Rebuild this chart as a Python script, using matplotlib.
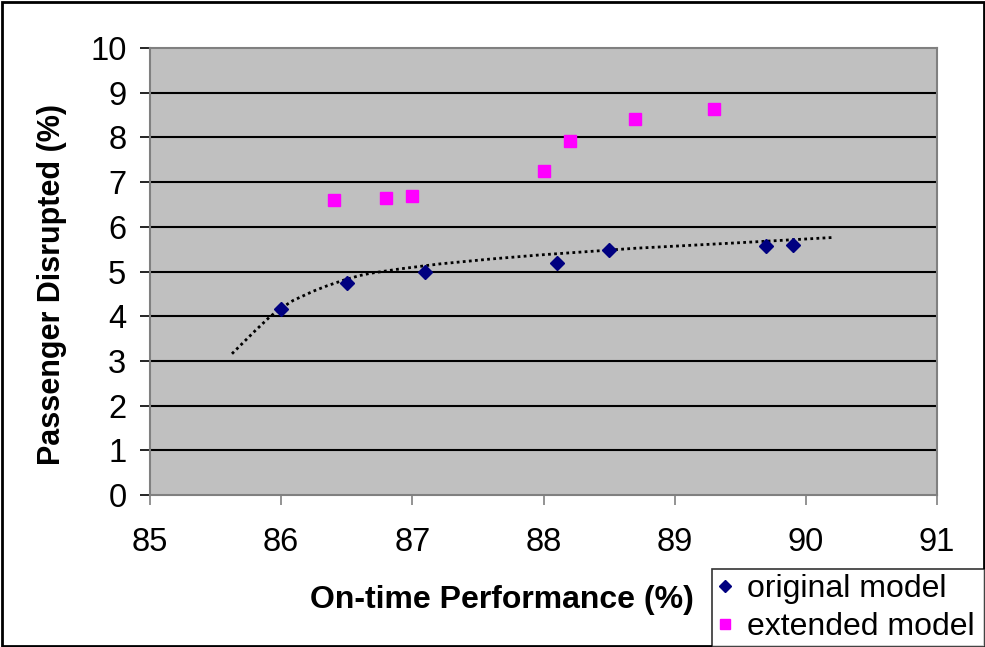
import matplotlib
matplotlib.use("Agg")
import matplotlib.pyplot as plt
from matplotlib.patches import Rectangle
import numpy as np

plt.rcParams['font.family'] = ['Liberation Sans', 'DejaVu Sans']

# Data
orig_x = [86.0, 86.5, 87.1, 88.1, 88.5, 89.7, 89.9]
orig_y = [4.16, 4.75, 5.0, 5.2, 5.47, 5.57, 5.6]
ext_x = [86.4, 86.8, 87.0, 88.0, 88.2, 88.7, 89.3]
ext_y = [6.6, 6.65, 6.69, 7.25, 7.92, 8.42, 8.63]
# Trendline of the original model
trend_x = [85.625, 85.8, 85.915, 86.0, 86.09, 86.245, 86.35, 86.49, 86.6,
           86.68, 86.91, 87.21, 87.6, 87.97, 88.7, 89.5, 90.2]
trend_y = [3.16, 3.67, 3.99, 4.18, 4.35, 4.56, 4.68, 4.82, 4.91,
           4.96, 5.06, 5.17, 5.28, 5.37, 5.52, 5.645, 5.76]
x_ticks = [85, 86, 87, 88, 89, 90, 91]
y_ticks = list(range(0, 11))

W, H = 985, 647
fig = plt.figure(figsize=(W/100, H/100), dpi=100)
ax = fig.add_axes([150/W, 1-495/H, (937-150)/W, (495-48)/H])
ax.set_facecolor('#C0C0C0')

ax.set_xlim(85, 91)
ax.set_ylim(0, 10)
ax.set_xticks(x_ticks)
ax.set_yticks(y_ticks)
ax.tick_params(axis='both', labelsize=23.5, length=7, width=1.2, color='black',
               direction='out')
ax.tick_params(axis='y', pad=10)
ax.tick_params(axis='x', color='#808080', pad=16)
for y in y_ticks[1:-1]:
    ax.axhline(y, color='black', lw=1.5, zorder=1)
for s in ax.spines.values():
    s.set_color('#808080')
    s.set_linewidth(1.5)

ax.plot(trend_x, trend_y, color='black', lw=2.0, linestyle=(0, (1, 1.2)), zorder=2)
ax.plot(orig_x, orig_y, linestyle='none', marker='D', ms=7.4, color='#000080',
        zorder=3, label='original model')
ax.plot(ext_x, ext_y, linestyle='none', marker='s', ms=8.6, color='#FF00FF',
        zorder=3, label='extended model')

ax.set_ylabel('Passenger Disrupted (%)', fontsize=22, fontweight='bold')
ax.yaxis.set_label_coords(-0.105, 0.472)
fig.text(502/W, 1-600/H, 'On-time Performance (%)', fontsize=23,
         fontweight='bold', ha='center', va='center')

handles, labels = ax.get_legend_handles_labels()
leg = fig.legend(handles, labels, loc='lower left',
                 bbox_to_anchor=(712/W, 0/H, (985-712)/W, (645-551)/H),
                 mode='expand', fontsize=23, frameon=True, fancybox=False,
                 edgecolor='black', handlelength=0.5, handletextpad=0.45,
                 borderpad=0.15, labelspacing=0.25, markerscale=0.8,
                 borderaxespad=0)
leg.get_frame().set_linewidth(1.2)

fig.patches.append(Rectangle((1.5/W, 1.5/H), 1-3/W, 1-3/H, transform=fig.transFigure,
                             fill=False, edgecolor='black', lw=2))

fig.savefig('out.png', dpi=100)
